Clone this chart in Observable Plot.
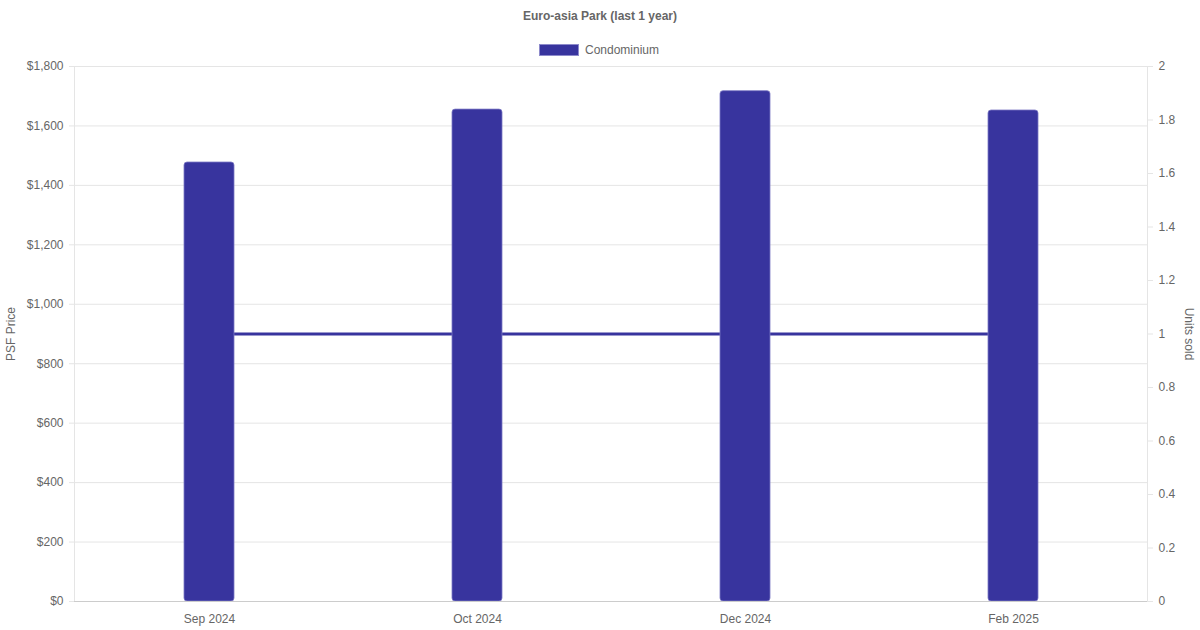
<!DOCTYPE html>
<html>
<head>
<meta charset="utf-8">
<script src="https://cdn.jsdelivr.net/npm/d3@7"></script>
<script src="https://cdn.jsdelivr.net/npm/@observablehq/plot@0.6"></script>
<style>
  body { margin: 0; background: #fff; font-family: "Liberation Sans", Arial, Helvetica, sans-serif; }
  #wrap { position: relative; width: 1200px; height: 630px; overflow: hidden; }
  #title { position: absolute; top: 8px; left: 0; width: 1200px; text-align: center; font-size: 12px; font-weight: bold; color: #666; line-height: 16px; }
  #legend { position: absolute; top: 43px; left: 0; width: 1200px; display: flex; justify-content: center; align-items: center; font-size: 12px; color: #666; line-height: 14px; }
  #legend .sw { width: 40px; height: 12px; background: #38349e; border: 1px solid #8d8acb; box-sizing: border-box; margin-right: 6px; margin-left: -2px; }
  #chart { position: absolute; top: 58px; left: 0; }
</style>
</head>
<body>
<div id="wrap">
  <div id="title">Euro-asia Park (last 1 year)</div>
  <div id="legend"><span class="sw"></span><span>Condominium</span></div>
  <div id="chart"></div>
</div>
<script>
const months = ["Sep 2024", "Oct 2024", "Dec 2024", "Feb 2025"];
const psfPrice = [1477, 1655, 1717, 1652];
const unitsSold = [1, 1, 1, 1];
const priceTicks = [0, 200, 400, 600, 800, 1000, 1200, 1400, 1600, 1800];
const unitTicks = [0, 0.2, 0.4, 0.6, 0.8, 1, 1.2, 1.4, 1.6, 1.8, 2];

const priceMax = 1800, unitMax = 2;
const ratio = priceMax / unitMax;
const color = "#38349e";

const data = months.map((m, i) => ({month: m, price: psfPrice[i], units: unitsSold[i], unitsScaled: unitsSold[i] * ratio}));

const plot = Plot.plot({
  width: 1200,
  height: 572,
  marginTop: 8,
  marginBottom: 29,
  marginLeft: 74,
  marginRight: 53,
  style: {fontFamily: '"Liberation Sans", Arial, sans-serif', fontSize: "12px", color: "#666", background: "#fff"},
  x: {type: "band", domain: months, padding: 0},
  y: {domain: [0, priceMax]},
  marks: [
    Plot.gridY(priceTicks, {stroke: "#e5e5e5", strokeOpacity: 1}),
    Plot.frame({stroke: "#e5e5e5", strokeOpacity: 1}),
    Plot.axisY(priceTicks, {
      anchor: "left", tickSize: 5, tickPadding: 6, stroke: "#e5e5e5", strokeOpacity: 1,
      tickFormat: d => "$" + d3.format(",")(d),
      label: null, fill: "#666"
    }),
    Plot.axisY(unitTicks.map(u => u * ratio), {
      anchor: "right", tickSize: 5, tickPadding: 6, stroke: "#e5e5e5", strokeOpacity: 1,
      tickFormat: d => String(+(d / ratio).toFixed(1)),
      label: null, fill: "#666"
    }),
    Plot.text(["PSF Price"], {frameAnchor: "left", dx: -63, rotate: -90, textAnchor: "middle", fill: "#666", fontSize: 12}),
    Plot.text(["Units sold"], {frameAnchor: "right", dx: 41, rotate: 90, textAnchor: "middle", fill: "#666", fontSize: 12}),
    Plot.axisX({tickSize: 0, tickPadding: 13, label: null, fill: "#666"}),
    Plot.line(data, {x: "month", y: "unitsScaled", stroke: color, strokeWidth: 3}),
    Plot.barY(data, {x: "month", y: "price", fill: color, stroke: "#7c79c4", strokeWidth: 0.8, insetLeft: 109, insetRight: 109, rx: 3}),
    Plot.ruleY([0], {stroke: "#cccccc", strokeWidth: 1})
  ]
});
document.getElementById("chart").appendChild(plot);
</script>
</body>
</html>
